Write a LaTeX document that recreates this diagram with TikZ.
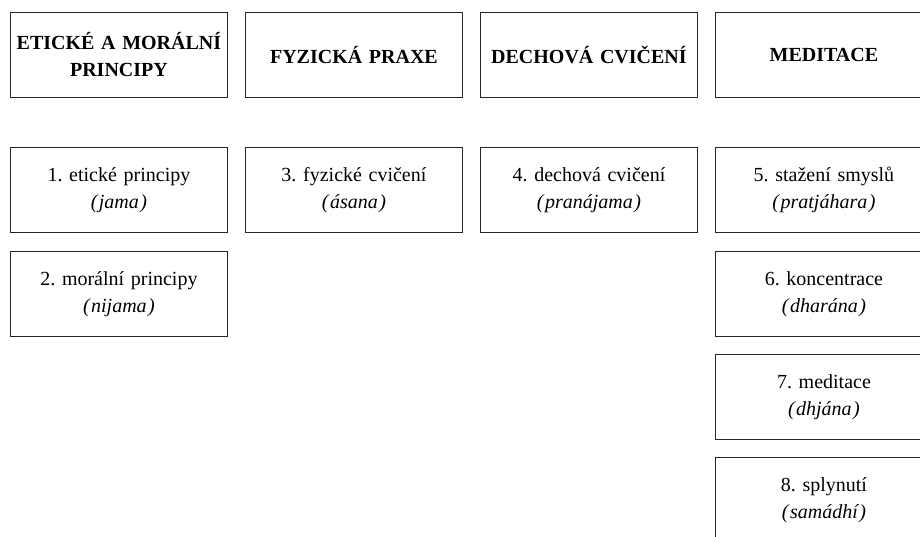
\documentclass[tikz,border=0pt]{standalone}
\usepackage{fontspec}
\setmainfont{Liberation Serif}
\frenchspacing
\begin{document}
\begin{tikzpicture}[x=1pt,y=-1pt,
  box/.style={draw=black!85,line width=0.9pt,anchor=north west,minimum width=217pt,minimum height=85pt,
    text width=209pt,align=center,inner sep=0pt,font=\fontsize{20}{27}\selectfont},
  head/.style={box,font=\fontsize{20}{27}\selectfont\bfseries}]
\useasboundingbox (0,0) rectangle (920,536);
\newcommand\skt[1]{\textit{(\kern1.5pt #1\kern1.5pt)}}
% headers
\node[head] (h1) at (10,12) {ETICKÉ A MORÁLNÍ\\PRINCIPY};
\node[head] (h2) at (245,12) {FYZICKÁ PRAXE};
\node[head] (h3) at (480,12) {DECHOVÁ CVIČENÍ};
\node[head] (h4) at (715,12) {MEDITACE};
% steps
\node[box] (s1) at (10,147) {1. etické principy\\\skt{jama}};
\node[box] (s2) at (10,251) {2. morální principy\\\skt{nijama}};
\node[box] (s3) at (245,147) {3. fyzické cvičení\\\skt{ásana}};
\node[box] (s4) at (480,147) {4. dechová cvičení\\\skt{pranájama}};
\node[box] (s5) at (715,147) {5. stažení smyslů\\\skt{pratjáhara}};
\node[box] (s6) at (715,251) {6. koncentrace\\\skt{dharána}};
\node[box] (s7) at (715,354) {7. meditace\\\skt{dhjána}};
\node[box] (s8) at (715,457) {8. splynutí\\\skt{samádhí}};
\end{tikzpicture}
\end{document}
